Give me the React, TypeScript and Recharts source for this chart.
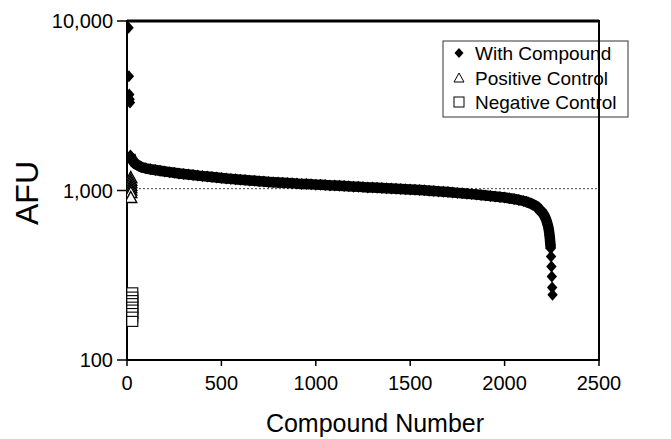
import React from 'react';
import { ScatterChart, Scatter, XAxis, YAxis, ReferenceLine, ReferenceArea, Label } from 'recharts';

// Top outliers (With Compound)
const outlierCompounds = [8, 10, 12, 14, 16];
const outlierAfu = [9120, 4720, 3680, 3450, 3300];

// Sorted compound responses (With Compound) – continuous band
const compoundNumbers = [
  18, 20, 23, 27, 32, 40, 50, 60, 75, 100, 125, 150, 175, 200, 225, 250, 275, 300, 325, 350,
  375, 400, 425, 450, 475, 500, 525, 550, 575, 600, 625, 650, 675, 700, 725, 750, 775, 800,
  825, 850, 875, 900, 925, 950, 975, 1000, 1025, 1050, 1075, 1100, 1125, 1150, 1175, 1200,
  1225, 1250, 1275, 1300, 1325, 1350, 1375, 1400, 1425, 1450, 1475, 1500, 1525, 1550, 1575,
  1600, 1625, 1650, 1675, 1700, 1725, 1750, 1775, 1800, 1825, 1850, 1875, 1900, 1925, 1950,
  1975, 2000, 2025, 2050, 2075, 2100, 2115, 2125, 2140, 2150, 2165, 2175, 2185, 2195, 2200,
  2205, 2210, 2215, 2220, 2224, 2228, 2231, 2234, 2236, 2238, 2240, 2241, 2243, 2244,
];
const compoundAfu = [
  1609, 1590, 1555, 1524, 1493, 1453, 1424, 1405, 1376, 1352, 1335, 1321, 1308, 1295, 1283,
  1272, 1261, 1251, 1242, 1233, 1224, 1216, 1208, 1200, 1192, 1185, 1178, 1171, 1164, 1158,
  1152, 1146, 1140, 1135, 1129, 1124, 1119, 1115, 1110, 1106, 1102, 1098, 1094, 1091, 1087,
  1083, 1080, 1076, 1072, 1069, 1065, 1062, 1058, 1054, 1051, 1047, 1043, 1040, 1037, 1034,
  1031, 1028, 1024, 1020, 1017, 1014, 1010, 1007, 1002, 997, 993, 988, 984, 979, 974, 968,
  963, 957, 952, 946, 940, 934, 928, 922, 916, 909, 900, 891, 880, 867, 858, 850, 838, 827,
  810, 794, 770, 750, 742, 727, 712, 693, 674, 652, 630, 610, 589, 566, 543, 521, 500, 478,
  455,
];

// Last, separated compounds at the bottom of the drop
const tailCompounds = [2246, 2248, 2250, 2252, 2254];
const tailAfu = [408, 356, 311, 268, 243];

// Positive control
const positiveCompounds = [20, 20, 20, 20, 20, 20, 20, 20];
const positiveAfu = [1193, 1150, 1115, 1075, 1041, 1005, 973, 909];

// Negative control
const negativeCompounds = [28, 28, 28, 28, 28, 28, 28, 28, 28];
const negativeAfu = [249, 235, 224, 215, 205, 197, 188, 179, 169];

const xTicks = [0, 500, 1000, 1500, 2000, 2500];
const yTicks = [100, 1000, 10000];
const baselineAfu = 1025;

const legendItems = ['With Compound', 'Positive Control', 'Negative Control'];

const toPoints = (xs: number[], ys: number[]) => xs.map((x, i) => ({ x, y: ys[i] }));

const FONT = '"Liberation Sans", Arial, Helvetica, sans-serif';

const Diamond = (props: any) => {
  const { cx, cy } = props;
  if (cx == null || cy == null) return null;
  return (
    <polygon
      points={`${cx},${cy - 6} ${cx + 5.2},${cy} ${cx},${cy + 6} ${cx - 5.2},${cy}`}
      fill="#000"
    />
  );
};

const Triangle = (props: any) => {
  const { cx, cy } = props;
  if (cx == null || cy == null) return null;
  return (
    <polygon
      points={`${cx},${cy - 6} ${cx + 6},${cy + 5} ${cx - 6},${cy + 5}`}
      fill="#fff"
      stroke="#000"
      strokeWidth={1.4}
    />
  );
};

const Square = (props: any) => {
  const { cx, cy } = props;
  if (cx == null || cy == null) return null;
  return (
    <rect x={cx - 5.5} y={cy - 5} width={11} height={10} fill="#fff" stroke="#000" strokeWidth={1.1} />
  );
};

const LegendBox = () => {
  const x0 = 443;
  const y0 = 41;
  const rows = [53, 78, 102];
  return (
    <g>
      <rect x={x0} y={y0} width={185} height={76} fill="#fff" stroke="#333" strokeWidth={1} />
      <polygon points={`459,${rows[0] - 5} 463.5,${rows[0]} 459,${rows[0] + 5} 454.5,${rows[0]}`} fill="#000" />
      <polygon
        points={`459,${rows[1] - 5} 464,${rows[1] + 4} 454,${rows[1] + 4}`}
        fill="#fff"
        stroke="#000"
        strokeWidth={1}
      />
      <rect x={454} y={rows[2] - 5} width={10} height={10} fill="#fff" stroke="#000" strokeWidth={1} />
      {legendItems.map((t, i) => (
        <text key={t} x={475} y={rows[i] + 7} fontSize={19} fontFamily={FONT} fill="#000">
          {t}
        </text>
      ))}
    </g>
  );
};

export default function App() {
  return (
    <div style={{ position: 'absolute', left: 0, top: 0, background: '#fff' }}>
      <ScatterChart width={671} height={439} margin={{ top: 21, right: 72, bottom: 0, left: 0 }}>
        <XAxis
          type="number"
          dataKey="x"
          domain={[0, 2500]}
          ticks={xTicks}
          height={79}
          stroke="#000"
          strokeWidth={2}
          tickLine={{ stroke: '#000', strokeWidth: 1.5 }}
          tickSize={6}
          tickMargin={10}
          tick={{ fill: '#000', fontSize: 20, fontFamily: FONT }}
          allowDataOverflow
        >
          <Label
            content={() => (
              <text x={375} y={432} textAnchor="middle" fontSize={25} fontFamily={FONT} fill="#000">
                Compound Number
              </text>
            )}
          />
        </XAxis>
        <YAxis
          type="number"
          dataKey="y"
          scale="log"
          domain={[100, 10000]}
          ticks={yTicks}
          width={127}
          stroke="#000"
          strokeWidth={2}
          tickLine={{ stroke: '#000', strokeWidth: 1.5 }}
          tickSize={10}
          tickMargin={4}
          tick={{ fill: '#000', fontSize: 20, fontFamily: FONT }}
          tickFormatter={(v: number) => v.toLocaleString('en-US')}
          allowDataOverflow
        >
          <Label
            content={() => (
              <text
                x={38}
                y={193}
                transform="rotate(-90 38 193)"
                textAnchor="middle"
                fontSize={32}
                fontFamily={FONT}
                fill="#000"
              >
                AFU
              </text>
            )}
          />
        </YAxis>
        <ReferenceArea
          x1={0}
          x2={2500}
          y1={100}
          y2={10000}
          fill="none"
          fillOpacity={0}
          stroke="#000"
          strokeWidth={2}
          ifOverflow="visible"
        />
        <ReferenceLine y={10000} stroke="#000" strokeWidth={3} ifOverflow="visible" />
        <ReferenceLine y={baselineAfu} stroke="#444" strokeDasharray="2 2" strokeWidth={1} />
        <Scatter
          name="With Compound"
          data={toPoints(compoundNumbers, compoundAfu)}
          shape={Diamond}
          line={{ stroke: '#000', strokeWidth: 10.5 }}
          lineType="joint"
          isAnimationActive={false}
        />
        <Scatter
          name="With Compound tail"
          data={toPoints(tailCompounds, tailAfu)}
          shape={Diamond}
          isAnimationActive={false}
        />
        <Scatter
          name="With Compound outliers"
          data={toPoints(outlierCompounds, outlierAfu)}
          shape={Diamond}
          isAnimationActive={false}
        />
        <Scatter
          name="Positive Control"
          data={toPoints(positiveCompounds, positiveAfu)}
          shape={Triangle}
          isAnimationActive={false}
        />
        <Scatter
          name="Negative Control"
          data={toPoints(negativeCompounds, negativeAfu)}
          shape={Square}
          isAnimationActive={false}
        />
        <LegendBox />
      </ScatterChart>
    </div>
  );
}
